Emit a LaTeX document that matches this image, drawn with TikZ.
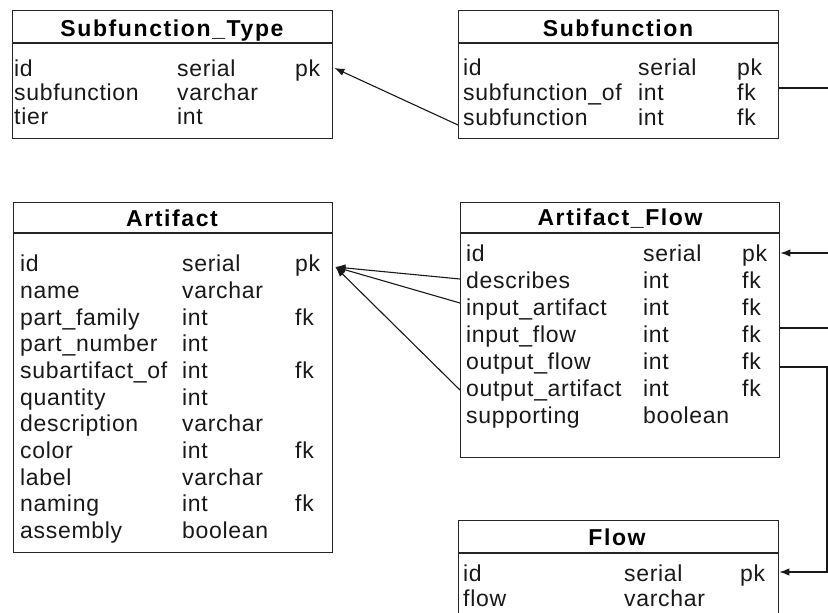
\documentclass[tikz,border=0pt]{standalone}
\usepackage{fontspec}
\setmainfont{Liberation Sans}[LetterSpace=3]
\newfontfamily\ttlfont{Liberation Sans}[LetterSpace=7]
\usetikzlibrary{arrows.meta,calc}
\newcommand{\fieldrow}[8]{%
  \node[fld] (#1n) at (#2,#5) {#6};
  \node[fld] (#1t) at (#3,#5) {#7};
  \node[fld] (#1k) at (#4,#5) {#8};}
\begin{document}
\begin{tikzpicture}[x=1pt,y=-1pt,
  tbl/.style={draw=black!85, line width=1.4pt, inner sep=0pt, anchor=north west},
  hdr/.style={draw=black!85, line width=1.4pt},
  ttl/.style={font=\fontsize{23}{23}\selectfont\ttlfont\bfseries, inner sep=0pt, text height=17pt, text depth=0pt},
  fld/.style={font=\fontsize{23}{23}\selectfont, text=black!90, inner sep=0pt, anchor=west, text height=17pt, text depth=0pt},
  conn/.style={draw=black!90, line width=1.1pt},
  arr/.style={conn, -{Latex[length=10pt,width=7.5pt]}},
]
\clip (0,0) rectangle (828,613);
\useasboundingbox (0,0) rectangle (828,613);
\fill[white] (0,0) rectangle (828,613);

% ---------- Subfunction_Type ----------
\node[tbl, minimum width=320pt, minimum height=128pt] (ST) at (12,10) {};
\draw[hdr] ($(ST.north west)+(0,33)$) -- ($(ST.north east)+(0,33)$);
\node[ttl] (STttl) at (172,28) {Subfunction\_Type};
\fieldrow{STid}{14}{177}{295}{68}{id}{serial}{pk}
\fieldrow{STsf}{14}{177}{295}{92}{subfunction}{varchar}{}
\fieldrow{STti}{14}{177}{295}{116}{tier}{int}{}

% ---------- Subfunction ----------
\node[tbl, minimum width=320pt, minimum height=128pt] (SF) at (458,10) {};
\draw[hdr] ($(SF.north west)+(0,33)$) -- ($(SF.north east)+(0,33)$);
\node[ttl] (SFttl) at (618,28) {Subfunction};
\fieldrow{SFid}{463}{638}{737}{67}{id}{serial}{pk}
\fieldrow{SFsubof}{463}{638}{737}{92}{subfunction\_of}{int}{fk}
\fieldrow{SFsub}{463}{638}{737}{117}{subfunction}{int}{fk}

% ---------- Artifact ----------
\node[tbl, minimum width=319pt, minimum height=350pt] (A) at (13,202) {};
\draw[hdr] ($(A.north west)+(0,31)$) -- ($(A.north east)+(0,31)$);
\node[ttl] (Attl) at (172,218) {Artifact};
\fieldrow{Aid}{20}{182}{295}{263}{id}{serial}{pk}
\fieldrow{Anm}{20}{182}{295}{290}{name}{varchar}{}
\fieldrow{Apf}{20}{182}{295}{317}{part\_family}{int}{fk}
\fieldrow{Apn}{20}{182}{295}{343}{part\_number}{int}{}
\fieldrow{Asa}{20}{182}{295}{370}{subartifact\_of}{int}{fk}
\fieldrow{Aqt}{20}{182}{295}{397}{quantity}{int}{}
\fieldrow{Ads}{20}{182}{295}{423}{description}{varchar}{}
\fieldrow{Acl}{20}{182}{295}{450}{color}{int}{fk}
\fieldrow{Alb}{20}{182}{295}{477}{label}{varchar}{}
\fieldrow{Anmg}{20}{182}{295}{503}{naming}{int}{fk}
\fieldrow{Aas}{20}{182}{295}{530}{assembly}{boolean}{}

% ---------- Artifact_Flow ----------
\node[tbl, minimum width=319pt, minimum height=255pt] (AF) at (460,202) {};
\draw[hdr] ($(AF.north west)+(0,31)$) -- ($(AF.north east)+(0,31)$);
\node[ttl] (AFttl) at (620,217) {Artifact\_Flow};
\fieldrow{AFid}{466}{643}{742}{253}{id}{serial}{pk}
\fieldrow{AFds}{466}{643}{742}{280}{describes}{int}{fk}
\fieldrow{AFia}{466}{643}{742}{307}{input\_artifact}{int}{fk}
\fieldrow{AFif}{466}{643}{742}{334}{input\_flow}{int}{fk}
\fieldrow{AFof}{466}{643}{742}{361}{output\_flow}{int}{fk}
\fieldrow{AFoa}{466}{643}{742}{388}{output\_artifact}{int}{fk}
\fieldrow{AFsp}{466}{643}{742}{415}{supporting}{boolean}{}

% ---------- Flow ----------
\node[tbl, minimum width=320pt, minimum height=130pt] (F) at (458,520) {};
\draw[hdr] ($(F.north west)+(0,33)$) -- ($(F.north east)+(0,33)$);
\node[ttl] (Fttl) at (617,537) {Flow};
\fieldrow{Fid}{463}{624}{740}{573}{id}{serial}{pk}
\fieldrow{Ffl}{463}{624}{740}{598}{flow}{varchar}{}

% ---------- connectors ----------
\coordinate (edge) at (860,0);
\coordinate (vx) at (827,0);
\coordinate (SFfrom) at ($(SF.west |- SFsubn)+(0,8)$);
\coordinate (STto) at ($(ST.east |- STidn)+(1,0)$);
\draw[arr] (SFfrom) -- (STto);

\coordinate (SFout) at ($(SF.east |- SFsubofn)+(0,-4)$);
\draw[conn] (SFout) -- (SFout -| edge);

\coordinate (AFin) at ($(AF.east |- AFidn)$);
\draw[arr] (AFin -| edge) -- (AFin);

\coordinate (AFifout) at ($(AF.east |- AFifn)+(0,-6)$);
\draw[conn] (AFifout) -- (AFifout -| edge);

\coordinate (AFofout) at ($(AF.east |- AFofn)+(0,6)$);
\coordinate (Fin) at ($(F.east |- Fidn)+(0,-1)$);
\draw[arr] (AFofout) -- (AFofout -| vx) -- (Fin -| vx) -- (Fin);

\coordinate (Atip) at ($(A.east |- Aidn)+(2,4)$);
\coordinate (AFdsw) at ($(AF.west |- AFdsn)+(0,-1)$);
\coordinate (AFiaw) at ($(AF.west |- AFian)+(0,-4)$);
\coordinate (AFoaw) at ($(AF.west |- AFoan)+(0,2)$);
\draw[arr] (AFdsw) -- (Atip);
\draw[arr] (AFiaw) -- (Atip);
\draw[arr] (AFoaw) -- (Atip);
\end{tikzpicture}
\end{document}
